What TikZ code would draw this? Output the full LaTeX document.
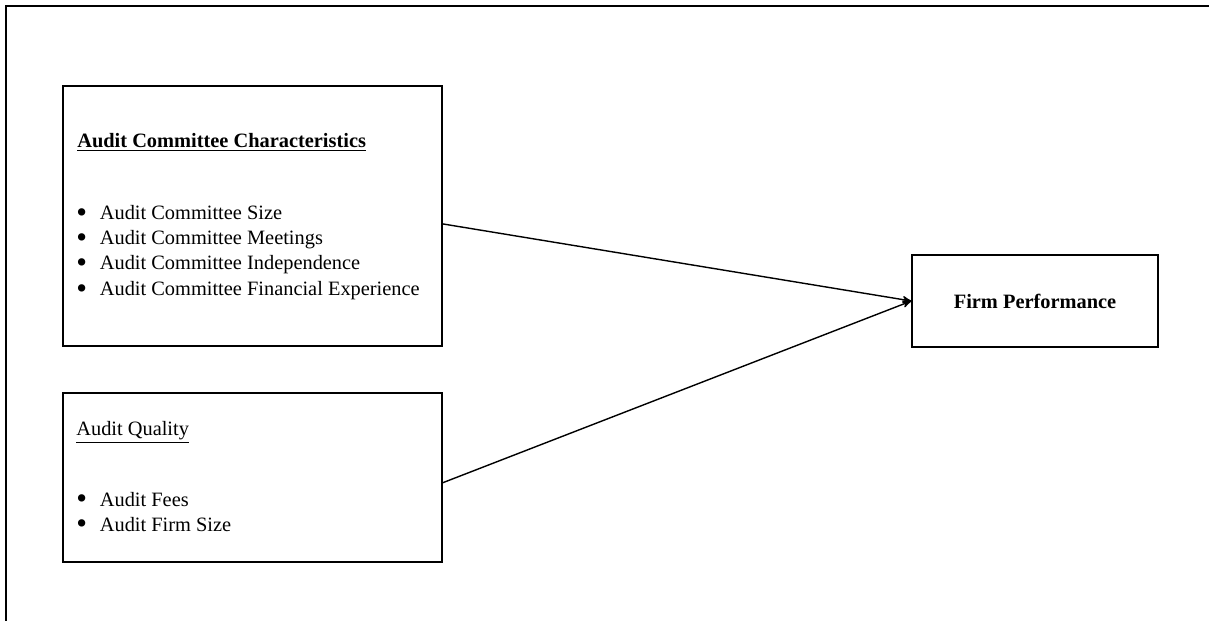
\documentclass[tikz,border=0pt]{standalone}
\usepackage{fontspec}
\setmainfont{Liberation Serif}
\usetikzlibrary{arrows}
\newcommand{\bulletitem}[1]{\makebox[13.4pt][l]{\raisebox{-1.6pt}{\scalebox{1.5}{\textbullet}}}#1}
\tikzset{
    every node/.style={
        font=\fontsize{11.6}{13.5}\selectfont},
    box/.style={
        draw,
        line width=0.8pt,
        inner sep=0pt},
    txt/.style={
        anchor=base west,
        inner sep=0pt},
    frame/.style={
        line width=1.1pt},
    every edge/.style={
        draw,
        ->,>=stealth',
        line width=0.8pt}}

\begin{document}
\begin{tikzpicture}[x=0.02cm,y=-0.02cm]
        \useasboundingbox (0,0) rectangle (1209,621);
        \clip (0,0) rectangle (1209,621);
        \draw[frame] (6,640) -- (6,6) -- (1230,6);

        % independent variables
        \node[box, minimum width=7.58cm, minimum height=5.2cm] (acc) at (252.5,216) {};
        \node[txt] (accTitle) at (77,148) {\textbf{\underline{Audit Committee Characteristics}}};
        \node[txt] (accA) at (76,220) {\bulletitem{Audit Committee Size}};
        \node[txt] (accB) at (76,245) {\bulletitem{Audit Committee Meetings}};
        \node[txt] (accC) at (76,270) {\bulletitem{Audit Committee Independence}};
        \node[txt] (accD) at (76,296) {\bulletitem{Audit Committee Financial Experience}};

        \node[box, minimum width=7.58cm, minimum height=3.38cm] (aq) at (252.5,477.5) {};
        \node[txt] (aqTitle) at (76,435) {\underline{Audit Quality}};
        \node[txt] (aqA) at (76,506) {\bulletitem{Audit Fees}};
        \node[txt] (aqB) at (76,531) {\bulletitem{Audit Firm Size}};

        % dependent variable
        \node[box, minimum width=4.92cm, minimum height=1.84cm] (perf) at (1035,301) {\textbf{Firm Performance}};

        \draw ([yshift=-4.5pt]acc.east) edge (perf.west);
        \draw ([yshift=-3pt]aq.east) edge (perf.west);
    \end{tikzpicture}
\end{document}
